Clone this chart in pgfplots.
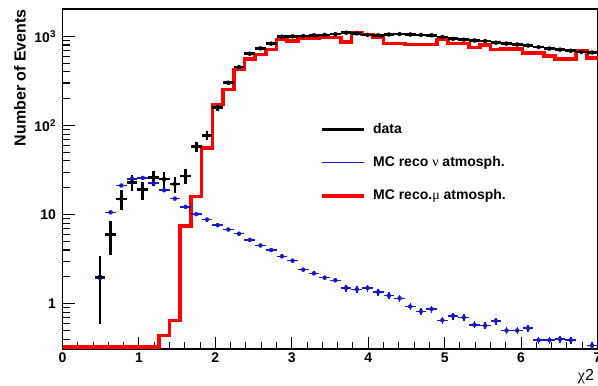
\documentclass[border=0pt]{standalone}
\usepackage{pgfplots}
\usepackage{pgfplotstable}
\pgfplotsset{compat=1.18}
\usepackage{fontspec}
\setmainfont{Liberation Sans}
\newfontfamily\grk{Liberation Serif}
\definecolor{mcblue}{RGB}{25,25,200}

\pgfplotstableread{
x y ex ey
0.49 2 0.07 1.41
0.63 6 0.07 2.45
0.77 15 0.07 3.87
0.91 23 0.07 4.80
1.05 19 0.07 4.36
1.19 26 0.07 5.10
1.33 25 0.07 5.00
1.47 22 0.07 4.69
1.61 27 0.07 5.20
1.75 58 0.07 7.62
1.89 77 0.07 8.77
2.03 158 0.07 12.6
2.17 302 0.07 17.4
2.31 452 0.07 21.3
2.45 640 0.07 25.3
2.59 733 0.07 27.1
2.73 828 0.07 28.8
2.87 993 0.07 31.5
3.01 1000 0.07 31.6
3.15 1010 0.07 31.8
3.29 1030 0.07 32.1
3.43 1040 0.07 32.2
3.57 1060 0.07 32.6
3.71 1100 0.07 33.2
3.85 1080 0.07 32.9
3.99 1040 0.07 32.2
4.13 1030 0.07 32.1
4.27 1050 0.07 32.4
4.41 1060 0.07 32.6
4.55 1050 0.07 32.4
4.69 1040 0.07 32.2
4.83 1030 0.07 32.1
4.97 985 0.07 31.4
5.11 940 0.07 30.7
5.25 920 0.07 30.3
5.39 900 0.07 30.0
5.53 885 0.07 29.7
5.67 850 0.07 29.2
5.81 830 0.07 28.8
5.95 810 0.07 28.5
6.09 790 0.07 28.1
6.23 760 0.07 27.6
6.37 730 0.07 27.0
6.51 710 0.07 26.6
6.65 690 0.07 26.3
6.79 670 0.07 25.9
6.93 660 0.07 25.7
}\datatab

\pgfplotstableread{
x y ex ey
0.49 1.94 0.07 0.03
0.63 10.6 0.07 0.03
0.77 21.2 0.07 0.03
0.91 25.2 0.07 0.03
1.05 25.8 0.07 0.03
1.19 22.5 0.07 0.03
1.33 18.8 0.07 0.03
1.47 15.1 0.07 0.03
1.61 12.2 0.07 0.03
1.75 10.1 0.07 0.03
1.89 8.8 0.07 0.05
2.03 7.6 0.07 0.05
2.17 6.8 0.07 0.05
2.31 6.1 0.07 0.05
2.45 5.2 0.07 0.05
2.59 4.5 0.07 0.05
2.73 4.0 0.07 0.05
2.87 3.4 0.07 0.05
3.01 3.04 0.07 0.05
3.15 2.41 0.07 0.05
3.29 2.19 0.07 0.05
3.43 1.96 0.07 0.05
3.57 1.83 0.07 0.05
3.71 1.50 0.07 0.09
3.85 1.45 0.07 0.09
3.99 1.50 0.07 0.09
4.13 1.35 0.07 0.09
4.27 1.23 0.07 0.09
4.41 1.15 0.07 0.09
4.55 0.93 0.07 0.09
4.69 0.82 0.07 0.09
4.83 0.87 0.07 0.09
4.97 0.65 0.07 0.09
5.11 0.73 0.07 0.09
5.25 0.70 0.07 0.09
5.39 0.58 0.07 0.09
5.53 0.566 0.07 0.09
5.67 0.64 0.07 0.09
5.81 0.50 0.07 0.09
5.95 0.50 0.07 0.09
6.09 0.53 0.07 0.09
6.23 0.39 0.07 0.09
6.37 0.39 0.07 0.09
6.51 0.40 0.07 0.09
6.65 0.39 0.07 0.09
6.93 0.34 0.07 0.09
}\nutab

\pgfplotstableread{
x y
0.00 0.325
0.14 0.325
0.28 0.325
0.42 0.325
0.56 0.325
0.70 0.325
0.84 0.325
0.98 0.325
1.12 0.325
1.26 0.44
1.40 0.65
1.54 7.4
1.68 16
1.82 56
1.96 172
2.10 254
2.24 426
2.38 561
2.52 628
2.66 714
2.80 925
2.94 885
3.08 943
3.22 943
3.36 967
3.50 967
3.64 863
3.78 1100
3.92 1052
4.06 967
4.20 835
4.34 835
4.48 812
4.62 812
4.76 812
4.90 925
5.04 835
5.18 835
5.32 747
5.46 800
5.60 714
5.74 727
5.88 727
6.02 656
6.16 656
6.30 601
6.44 561
6.58 561
6.72 684
6.86 574
7.00 574
}\mutab

\begin{document}
\begin{tikzpicture}
\useasboundingbox (0pt,0pt) rectangle (598pt,386pt);
\begin{axis}[
  at={(62.5pt,37pt)}, anchor=south west,
  scale only axis, width=535pt, height=340pt,
  xmin=0, xmax=7, ymin=0.31, ymax=2030, ymode=log,
  axis line style={line width=1.3pt},
  tick style={line width=1.1pt, black},
  tick align=inside, tick pos=left,
  major tick length=12pt, minor tick length=7pt,
  xtick={0,1,2,3,4,5,6,7}, minor x tick num=4,
  ytick={1,10,100,1000},
  yticklabels={1,10,10\textsuperscript{2},10\textsuperscript{3}},
  minor ytick={0.4,0.5,0.6,0.7,0.8,0.9,2,3,4,5,6,7,8,9,20,30,40,50,60,70,80,90,200,300,400,500,600,700,800,900,2000},
  /pgf/number format/assume math mode=true,
  ticklabel style={font=\fontsize{14}{14}\selectfont\bfseries},
  yticklabel style={xshift=-3pt},
  ylabel={Number of Events},
  ylabel style={at={(axis description cs:-0.0794,1)}, anchor=east, inner sep=0pt, font=\fontsize{16}{16}\selectfont\bfseries},
  xlabel={{\grk χ}2},
  xlabel style={at={(axis description cs:0.963,0)}, anchor=north west, yshift=-20pt, inner sep=0pt, font=\fontsize{16}{16}\selectfont},
  legend style={at={(axis description cs:0.481,0.672)}, anchor=north west, draw=none, fill=white, inner sep=0pt,
    font=\fontsize{14}{15}\selectfont\bfseries, row sep=15pt, column sep=5pt,
    nodes={text height=10pt, text depth=3pt, inner sep=2.5pt}},
  legend cell align=left,
  legend image code/.code={\draw[#1] (0pt,0pt) -- (42pt,0pt);},
]
\addplot[red, line width=3.6pt, const plot, mark=none, line join=miter, forget plot] table[x=x,y=y] {\mutab};
\addplot[mcblue, only marks, mark=none, forget plot,
  error bars/.cd, x dir=both, x explicit, y dir=both, y explicit relative,
  error mark=none, error bar style={mcblue, line width=1.5pt, solid}]
  table[x=x, y=y, x error=ex, y error=ey] {\nutab};
\addplot[black, only marks, mark=none, forget plot,
  error bars/.cd, x dir=both, x explicit, y dir=both, y explicit,
  error mark=none, error bar style={black, line width=2.6pt, solid}]
  table[x=x, y=y, x error=ex, y error=ey] {\datatab};
\addlegendimage{black, line width=3.2pt}
\addlegendentry{data}
\addlegendimage{mcblue, line width=1.4pt}
\addlegendentry{MC reco {\grk\mdseries ν} atmosph.}
\addlegendimage{red, line width=3.6pt}
\addlegendentry{MC reco.{\grk\mdseries μ} atmosph.}
\end{axis}
\end{tikzpicture}
\end{document}
